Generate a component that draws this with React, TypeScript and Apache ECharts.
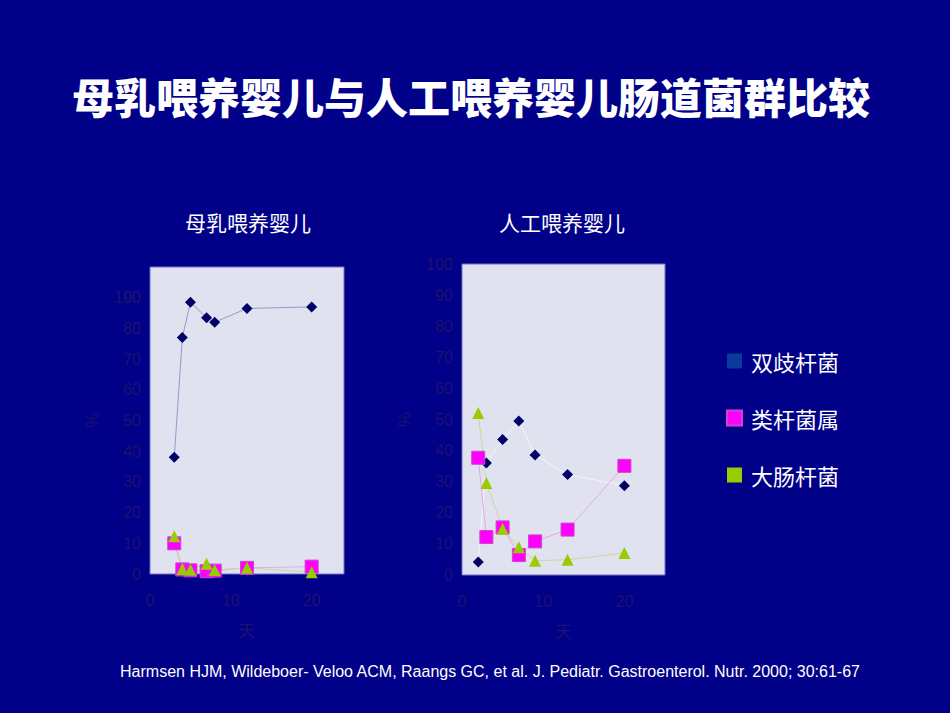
import React, { useEffect, useRef } from "react";
import * as echarts from "echarts";

const seriesNames = ["双歧杆菌", "类杆菌属", "大肠杆菌"];
const legendColors = ["#0a3a9c", "#ff00ff", "#99cc00"];

// 母乳喂养婴儿
const breastDays = [3, 4, 5, 7, 8, 12, 20];
const breastBifido = [38, 77, 88.5, 83.5, 82, 86.5, 87];
const breastBactero = [10, 1.5, 1.2, 0.9, 1.1, 2, 2.4];
const breastEcoli = [12.3, 1.6, 1.4, 3.3, 1.3, 2, 0.6];

// 人工喂养婴儿
const formulaDays = [2, 3, 5, 7, 9, 13, 20];
const formulaBifido = [4.2, 36, 43.6, 49.5, 38.6, 32.3, 28.7];
const formulaBactero = [37.7, 12.2, 15.3, 6.4, 10.8, 14.6, 35.1];
const formulaEcoli = [52.1, 29.6, 14.9, 8.9, 4.6, 4.9, 7.1];

const pairs = (xs: number[], ys: number[]) => xs.map((x, i) => [x, ys[i]]);

const labelColor = "#1e1270";
const font = "Liberation Sans, Arial, sans-serif";
const cjk = "'Noto Sans CJK SC', sans-serif";

const App = () => {
  const chartRef = useRef<HTMLDivElement>(null);

  useEffect(() => {
    const dom = chartRef.current;
    if (!dom) return;
    const chart = echarts.init(dom, null, { renderer: "svg" });

    const xAxisBase = (max: number) => ({
      type: "value",
      min: 0,
      max,
      interval: 10,
      name: "天",
      nameLocation: "middle",
      nameGap: 47,
      nameTextStyle: { color: labelColor, fontSize: 17, fontFamily: cjk },
      axisLine: { show: false },
      axisTick: { show: false },
      splitLine: { show: false },
      axisLabel: { color: labelColor, fontSize: 16, fontFamily: font, margin: 18, showMaxLabel: false },
    });

    const yAxisBase = (fmt?: (v: number) => string) => ({
      type: "value",
      position: "left",
      min: 0,
      max: 100,
      interval: 10,
      name: "%",
      nameLocation: "middle",
      nameGap: 49,
      nameRotate: 90,
      nameTextStyle: { color: labelColor, fontSize: 17, fontFamily: font },
      axisLine: { show: false },
      axisTick: { show: false },
      splitLine: { show: false },
      axisLabel: { color: labelColor, fontSize: 16, fontFamily: font, margin: 9, formatter: fmt },
    });

    const marker = (i: number) => {
      if (i === 0)
        return { symbol: "diamond", symbolSize: 11, itemStyle: { color: "#000066" } };
      if (i === 1)
        return {
          symbol: "rect",
          symbolSize: 13,
          itemStyle: { color: "#ff00ff", borderColor: "#cc44cc", borderWidth: 1 },
        };
      return { symbol: "triangle", symbolSize: 12, itemStyle: { color: "#99cc00" } };
    };

    const lineColorsLeft = ["#9898c8", "#e8a8e0", "#c8d8a0"];
    const lineColorsRight = ["#f4f4fa", "#e8a8e0", "#c8d8a0"];

    const mk = (i: number, data: number[][], axis: number, lineColor: string) => ({
      name: seriesNames[i],
      type: "line",
      xAxisIndex: axis,
      yAxisIndex: axis,
      data,
      lineStyle: { width: 1, color: lineColor },
      ...marker(i),
    });

    const option = {
      animation: false,
      backgroundColor: "#000088",
      title: [
        {
          text: "母乳喂养婴儿与人工喂养婴儿肠道菌群比较",
          left: 471,
          top: 74,
          textAlign: "center",
          padding: 0,
          textStyle: { color: "#ffffff", fontSize: 42, fontWeight: 900, fontFamily: cjk },
        },
        {
          text: "母乳喂养婴儿",
          left: 248,
          top: 211,
          textAlign: "center",
          padding: 0,
          textStyle: { color: "#ffffff", fontSize: 21, fontWeight: "normal", fontFamily: cjk },
        },
        {
          text: "人工喂养婴儿",
          left: 562,
          top: 211,
          textAlign: "center",
          padding: 0,
          textStyle: { color: "#ffffff", fontSize: 21, fontWeight: "normal", fontFamily: cjk },
        },
        {
          text: "Harmsen HJM, Wildeboer- Veloo ACM, Raangs GC, et al. J. Pediatr. Gastroenterol. Nutr. 2000; 30:61-67",
          left: 490,
          top: 663,
          textAlign: "center",
          padding: 0,
          textStyle: { color: "#ffffff", fontSize: 16, fontWeight: "normal", fontFamily: font },
        },
      ],
      legend: {
        orient: "vertical",
        left: 721,
        top: 344,
        itemWidth: 15,
        itemHeight: 15,
        itemGap: 33,
        icon: "rect",
        textStyle: { color: "#ffffff", fontSize: 22, fontFamily: cjk, lineHeight: 24, padding: [0, 0, 0, 4] },
        data: seriesNames.map((n, i) => ({ name: n, itemStyle: { color: legendColors[i] } })),
      },
      grid: [
        {
          left: 150,
          top: 267,
          width: 194,
          height: 307,
          show: true,
          backgroundColor: "#e0e2f0",
          borderColor: "#7070c8",
          borderWidth: 1,
        },
        {
          left: 462,
          top: 264,
          width: 203,
          height: 311,
          show: true,
          backgroundColor: "#e0e2f0",
          borderColor: "#7070c8",
          borderWidth: 1,
        },
      ],
      xAxis: [
        { ...xAxisBase(24), gridIndex: 0 },
        { ...xAxisBase(25), gridIndex: 1 },
      ],
      yAxis: [
        { ...yAxisBase((v: number) => (v === 100 ? "" : String(v))), gridIndex: 0 },
        { ...yAxisBase(), gridIndex: 1 },
        {
          ...yAxisBase((v: number) => (v === 90 ? "100" : "")),
          name: "",
          gridIndex: 0,
        },
      ],
      series: [
        mk(0, pairs(breastDays, breastBifido), 0, lineColorsLeft[0]),
        mk(1, pairs(breastDays, breastBactero), 0, lineColorsLeft[1]),
        mk(2, pairs(breastDays, breastEcoli), 0, lineColorsLeft[2]),
        mk(0, pairs(formulaDays, formulaBifido), 1, lineColorsRight[0]),
        mk(1, pairs(formulaDays, formulaBactero), 1, lineColorsRight[1]),
        mk(2, pairs(formulaDays, formulaEcoli), 1, lineColorsRight[2]),
      ],
    };

    chart.setOption(option);

    const onResize = () => chart.resize();
    window.addEventListener("resize", onResize);
    return () => {
      window.removeEventListener("resize", onResize);
      chart.dispose();
    };
  }, []);

  return (
    <div
      ref={chartRef}
      style={{ position: "fixed", left: 0, top: 0, width: 950, height: 713 }}
    ></div>
  );
};

export default App;
